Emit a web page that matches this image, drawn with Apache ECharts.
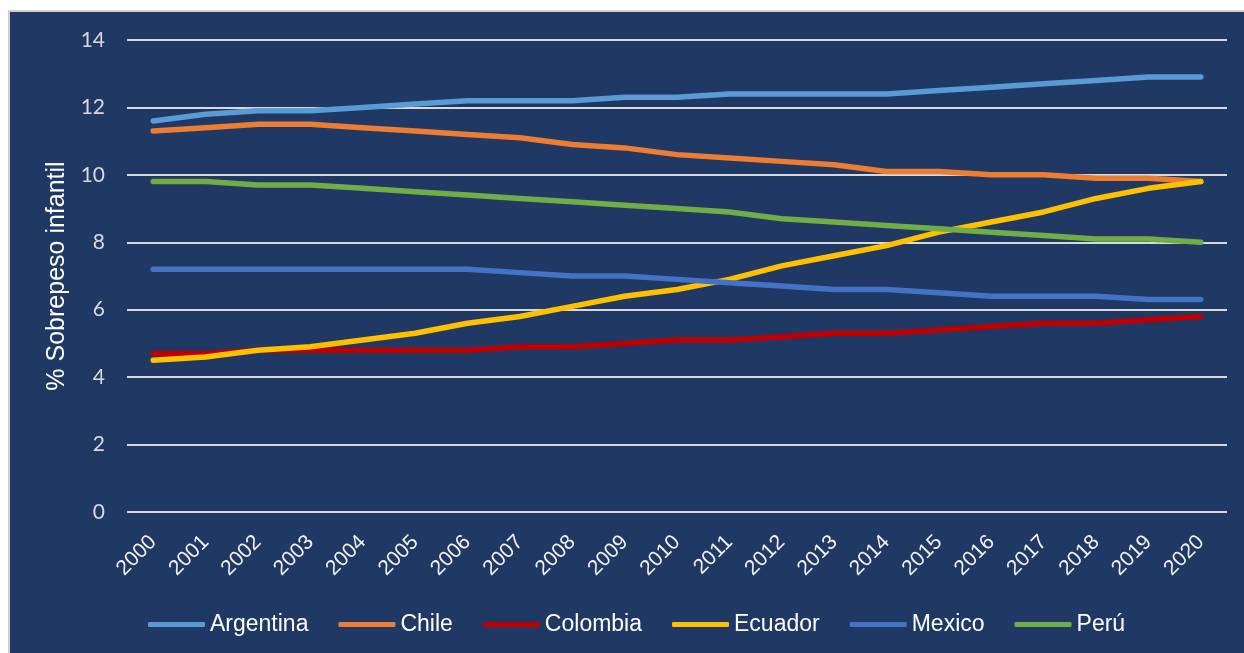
<!DOCTYPE html>
<html>
<head>
<meta charset="utf-8">
<script src="https://cdn.jsdelivr.net/npm/echarts@6/dist/echarts.min.js"></script>
<style>
  html, body { margin: 0; padding: 0; background: #ffffff; }
  #frame {
    position: absolute; left: 8px; top: 10px; width: 1236px; height: 643px;
    box-sizing: border-box; background: #203864;
    border-left: 2px solid #cfcfcf; border-top: 2px solid #cfcfcf;
  }
  #chart { position: absolute; left: 0; top: 0; width: 1244px; height: 653px; }
</style>
</head>
<body>
<div id="frame"></div>
<div id="chart"></div>
<script>
// Years on the category axis
const years = ['2000','2001','2002','2003','2004','2005','2006','2007','2008','2009','2010',
               '2011','2012','2013','2014','2015','2016','2017','2018','2019','2020'];

// Childhood overweight prevalence (%) by country
const argentina = [11.6,11.8,11.9,11.9,12.0,12.1,12.2,12.2,12.2,12.3,12.3,12.4,12.4,12.4,12.4,12.5,12.6,12.7,12.8,12.9,12.9];
const chile     = [11.3,11.4,11.5,11.5,11.4,11.3,11.2,11.1,10.9,10.8,10.6,10.5,10.4,10.3,10.1,10.1,10.0,10.0,9.9,9.9,9.8];
const colombia  = [4.7,4.7,4.8,4.8,4.8,4.8,4.8,4.9,4.9,5.0,5.1,5.1,5.2,5.3,5.3,5.4,5.5,5.6,5.6,5.7,5.8];
const ecuador   = [4.5,4.6,4.8,4.9,5.1,5.3,5.6,5.8,6.1,6.4,6.6,6.9,7.3,7.6,7.9,8.3,8.6,8.9,9.3,9.6,9.8];
const mexico    = [7.2,7.2,7.2,7.2,7.2,7.2,7.2,7.1,7.0,7.0,6.9,6.8,6.7,6.6,6.6,6.5,6.4,6.4,6.4,6.3,6.3];
const peru      = [9.8,9.8,9.7,9.7,9.6,9.5,9.4,9.3,9.2,9.1,9.0,8.9,8.7,8.6,8.5,8.4,8.3,8.2,8.1,8.1,8.0];

const countries = [
  { name: 'Argentina', data: argentina, color: '#5B9BD5' },
  { name: 'Chile',     data: chile,     color: '#ED7D31' },
  { name: 'Colombia',  data: colombia,  color: '#C00000' },
  { name: 'Ecuador',   data: ecuador,   color: '#FFC000' },
  { name: 'Mexico',    data: mexico,    color: '#4472C4' },
  { name: 'Perú',      data: peru,      color: '#70AD47' }
];

const chart = echarts.init(document.getElementById('chart'), null, { renderer: 'canvas' });

chart.setOption({
  backgroundColor: 'transparent',
  animation: false,
  grid: { left: 127, right: 17, top: 40, bottom: 141, containLabel: false },
  legend: {
    left: 143, top: 608,
    icon: 'roundRect',
    itemWidth: 57, itemHeight: 5, itemGap: 30,
    textStyle: { color: '#ffffff', fontSize: 23, fontFamily: 'Liberation Sans, Arial, sans-serif' },
    data: countries.map(c => c.name)
  },
  xAxis: {
    type: 'category',
    data: years,
    boundaryGap: true,
    axisLine: { show: false },
    axisTick: { show: false },
    axisLabel: {
      rotate: 45, interval: 0, margin: 27,
      color: '#f2f2f2', fontSize: 21,
      fontFamily: 'Liberation Sans, Arial, sans-serif'
    }
  },
  yAxis: {
    type: 'value',
    min: 0, max: 14, interval: 2,
    name: '% Sobrepeso infantil',
    nameLocation: 'middle',
    nameGap: 56,
    nameTextStyle: { color: '#ffffff', fontSize: 25, fontFamily: 'Liberation Sans, Arial, sans-serif' },
    axisLine: { show: false },
    axisTick: { show: false },
    axisLabel: { color: '#d9d9d9', fontSize: 21, margin: 22, fontFamily: 'Lato, sans-serif' },
    splitLine: { lineStyle: { color: '#d9d9d9', width: 2 } }
  },
  series: countries.map(c => ({
    name: c.name,
    type: 'line',
    data: c.data,
    symbol: 'none',
    color: c.color,
    lineStyle: { width: 5.5, color: c.color, cap: 'round', join: 'round' },
    itemStyle: { color: c.color }
  }))
});
</script>
</body>
</html>
